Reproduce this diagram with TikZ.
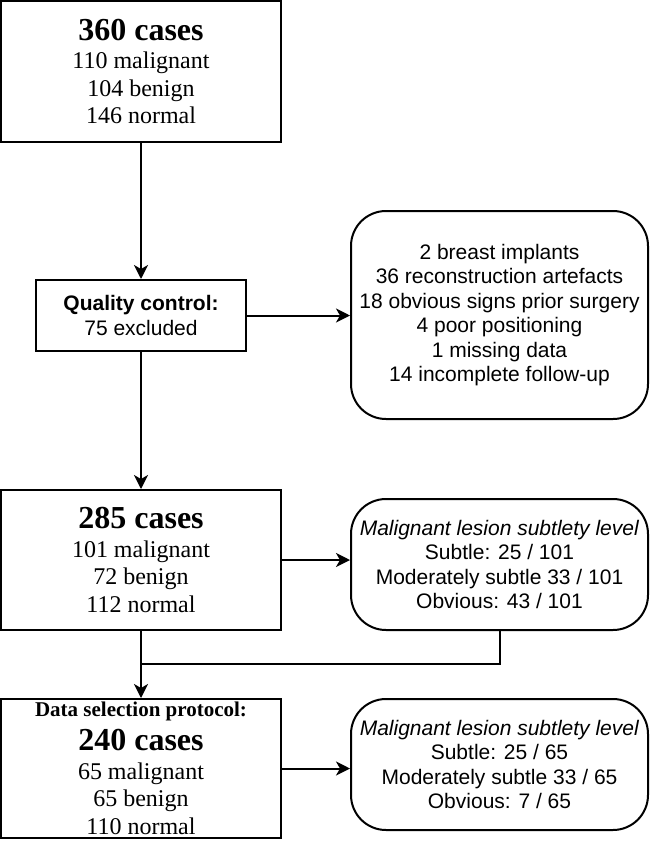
\documentclass[tikz,border=0pt]{standalone}
\usepackage{fontspec}
\setmainfont{Liberation Serif}
\setsansfont{Liberation Sans}
\usetikzlibrary{arrows.meta}
\tikzset{
  casebox/.style={draw,line width=2pt,minimum width=280pt,align=center,inner sep=0pt,font=\fontsize{24}{27.5}\selectfont},
  notebox/.style={draw,line width=2pt,rounded corners=35pt,minimum width=297pt,minimum height=131pt,align=center,inner sep=0pt,font=\sffamily\fontsize{21}{24.5}\selectfont},
  flow/.style={line width=2pt,-{Stealth[length=14pt,width=14pt,inset=4pt]}}
}
\newcommand{\casetitle}[1]{{\fontsize{32}{34}\selectfont\bfseries #1}}
\begin{document}
\begin{tikzpicture}[x=1pt,y=-1pt]
 \useasboundingbox (0,0) rectangle (649,841);
 \node[casebox,minimum height=141pt] (all) at (141,71.5) {\casetitle{360 cases}\\[1pt] 110 malignant\\ 104 benign\\ 146 normal};
 \node[casebox,minimum width=210pt,minimum height=71pt,font=\sffamily\fontsize{21}{25}\selectfont] (qc) at (141,315.5) {\textbf{Quality control:}\\ 75 excluded};
 \node[notebox,minimum height=208pt] (excl) at (499.5,315) {2 breast implants\\ 36 reconstruction artefacts\\ 18 obvious signs prior surgery\\ 4 poor positioning\\ 1 missing data\\ 14 incomplete follow-up};
 \node[casebox,minimum height=140pt] (kept) at (141,560) {\casetitle{285 cases}\\[1pt] 101 malignant\\ 72 benign\\ 112 normal};
 \node[notebox] (keptlvl) at (499.5,564.5) {\textit{Malignant lesion subtlety level}\\ Subtle: 25 / 101\\ Moderately subtle 33 / 101\\ Obvious: 43 / 101};
 \node[casebox,minimum height=139pt] (sel) at (141,768.5) {{\fontsize{21}{22}\selectfont\bfseries Data selection protocol:}\\[6.5pt] \casetitle{240 cases}\\[1pt] 65 malignant\\ 65 benign\\ 110 normal};
 \node[notebox] (sellvl) at (499.5,764.5) {\textit{Malignant lesion subtlety level}\\ Subtle: 25 / 65\\ Moderately subtle 33 / 65\\ Obvious: 7 / 65};
 \coordinate (join) at (141,664);
 \draw[flow] (all) -- (qc);
 \draw[flow] (qc.east) -- (qc.east -| excl.west);
 \draw[flow] (qc) -- (kept);
 \draw[flow] (kept.east) -- (kept.east -| keptlvl.west);
 \draw[line width=2pt] (keptlvl.south) |- (join);
 \draw[flow] (kept) -- (sel);
 \draw[flow] (sel.east) -- (sel.east -| sellvl.west);
\end{tikzpicture}
\end{document}
